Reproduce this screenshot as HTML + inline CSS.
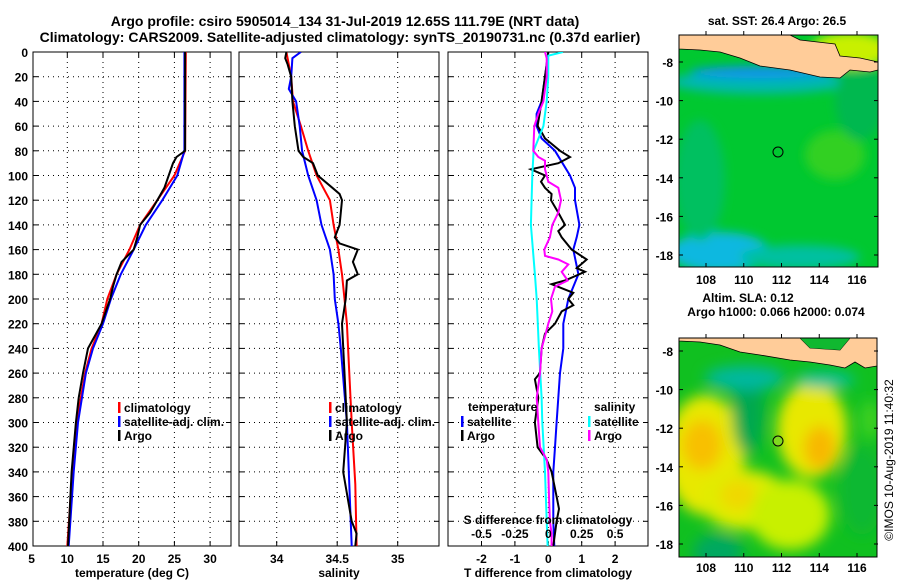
<!DOCTYPE html>
<html><head><meta charset="utf-8"><style>
html,body{margin:0;padding:0;background:#fff;width:900px;height:580px;overflow:hidden}
svg{display:block;font-family:"Liberation Sans",sans-serif;font-weight:bold}
</style></head><body>
<svg id="fig" width="900" height="580" viewBox="0 0 900 580">
<defs>
<filter id="bl1" x="-50%" y="-50%" width="200%" height="200%"><feGaussianBlur stdDeviation="5"/></filter>
<filter id="bl2" x="-50%" y="-50%" width="200%" height="200%"><feGaussianBlur stdDeviation="7"/></filter>
<clipPath id="cm1"><rect x="679" y="35" width="199" height="232"/></clipPath>
<clipPath id="cm2"><rect x="679" y="338" width="198" height="219"/></clipPath>
<clipPath id="cp1"><rect x="33" y="52" width="198" height="494"/></clipPath>
<clipPath id="cp2"><rect x="239" y="52" width="200" height="494"/></clipPath>
<clipPath id="cp3"><rect x="448" y="52" width="200" height="494"/></clipPath>
</defs>
<text x="345" y="26" font-size="14" text-anchor="middle">Argo profile: csiro 5905014_134 31-Jul-2019 12.65S 111.79E (NRT data)</text>
<text x="340" y="42" font-size="14" text-anchor="middle">Climatology: CARS2009. Satellite-adjusted climatology: synTS_20190731.nc (0.37d earlier)</text>

<!-- Map 1 SST -->
<g>
<g clip-path="url(#cm1)">
<rect x="679" y="35" width="199" height="232" fill="#00c830"/>
<g filter="url(#bl1)">
<ellipse cx="760" cy="82" rx="90" ry="12" fill="#00b8b0"/>
<ellipse cx="760" cy="72" rx="70" ry="6" fill="#1090f0"/>
<ellipse cx="720" cy="252" rx="50" ry="20" fill="#10b8e0"/>
<ellipse cx="800" cy="257" rx="60" ry="12" fill="#00c0a0"/>
<ellipse cx="700" cy="180" rx="25" ry="60" fill="#00c060"/>
<ellipse cx="835" cy="155" rx="30" ry="25" fill="#30d020"/>
<ellipse cx="860" cy="100" rx="25" ry="40" fill="#00b850"/>
<ellipse cx="850" cy="50" rx="40" ry="18" fill="#c8f000"/>
</g>
<polygon points="679,35 679,49 700,50 720,52 740,58 760,66 790,70 820,77 840,78 850,70 870,72 878,70 878,62 860,58 840,56 835,44 800,40 790,35" fill="#ffcc99" stroke="#000" stroke-width="0.8"/>
</g>
<rect x="679" y="35" width="199" height="232" fill="none" stroke="#000"/>
<circle cx="778" cy="152" r="5" fill="none" stroke="#000"/>
</g>
<text x="777" y="25" font-size="12" text-anchor="middle">sat. SST: 26.4 Argo: 26.5</text>

<!-- Map 2 SLA -->
<g>
<g clip-path="url(#cm2)">
<rect x="679" y="338" width="198" height="219" fill="#10c020"/>
<g filter="url(#bl2)">
<ellipse cx="705" cy="455" rx="40" ry="60" fill="#e8e800"/>
<ellipse cx="745" cy="500" rx="45" ry="30" fill="#e0ec00"/>
<ellipse cx="790" cy="515" rx="40" ry="35" fill="#c8f000"/>
<ellipse cx="812" cy="430" rx="35" ry="48" fill="#e8e800"/>
<ellipse cx="702" cy="445" rx="20" ry="25" fill="#f8c000"/>
<ellipse cx="738" cy="495" rx="18" ry="15" fill="#f0d800"/>
<ellipse cx="820" cy="448" rx="16" ry="22" fill="#f8b800"/>
<ellipse cx="748" cy="410" rx="16" ry="45" fill="#00a850"/>
<ellipse cx="745" cy="378" rx="40" ry="12" fill="#00b8a0"/>
<ellipse cx="825" cy="380" rx="30" ry="8" fill="#00c0a0"/>
<ellipse cx="718" cy="552" rx="25" ry="18" fill="#00a860"/>
<ellipse cx="862" cy="490" rx="22" ry="45" fill="#10b830"/>
<ellipse cx="870" cy="420" rx="10" ry="20" fill="#40d020"/>
</g>
<polygon points="679,338 679,341 700,342 720,345 740,352 760,355 790,360 810,362 830,365 845,368 855,362 865,368 877,366 877,338 850,338 840,350 810,348 800,338" fill="#ffcc99" stroke="#000" stroke-width="0.8"/>
<polygon points="800,338 810,348 840,350 850,338" fill="#10b830"/>
</g>
<rect x="679" y="338" width="198" height="219" fill="none" stroke="#000"/>
<circle cx="778" cy="441" r="5" fill="#80d820" stroke="#000"/>
</g>
<text x="748" y="302" font-size="12" text-anchor="middle">Altim. SLA: 0.12</text>
<text x="776" y="316" font-size="12" text-anchor="middle">Argo h1000: 0.066 h2000: 0.074</text>
<text transform="translate(893,460) rotate(-90)" font-size="12" font-weight="normal" text-anchor="middle">©IMOS 10-Aug-2019 11:40:32</text>
<g id="dyn"></g>
</svg>
<script>
const tDepthClim=[0,80,100,120,140,160,180,200,220,240,260,300,340,400];
const tClim=[26.6,26.5,25.0,22.6,20.2,18.7,16.9,15.6,14.8,13.4,12.5,11.3,10.7,10.0];
const tDepthSat=[0,80,100,120,140,160,180,200,220,240,260,300,340,400];
const tSat=[26.4,26.4,25.4,23.3,21.0,19.3,17.5,16.1,15.0,13.6,12.6,11.5,10.9,10.2];
const tDepthArgo=[0,80,85,90,100,110,120,130,140,150,160,170,180,190,200,220,240,260,280,300,340,400];
const tArgo=[26.5,26.5,25.3,24.8,24.2,23.6,22.6,21.6,20.2,19.8,19.3,17.6,16.9,16.4,16.0,14.8,12.9,12.2,11.6,11.2,10.6,10.1];

const sDepthClim=[0,20,40,60,80,100,120,140,160,180,200,220,240,300,350,400];
const sClim=[34.08,34.12,34.135,34.2,34.26,34.33,34.44,34.47,34.51,34.54,34.56,34.58,34.59,34.62,34.65,34.66];
const sDepthSat=[0,5,20,30,40,60,80,100,120,140,160,180,200,220,240,300,350,400];
const sSat=[34.2,34.13,34.12,34.1,34.16,34.19,34.21,34.26,34.33,34.37,34.44,34.47,34.48,34.51,34.53,34.58,34.6,34.62];
const sDepthArgo=[0,5,10,20,40,60,80,85,90,100,110,115,120,140,150,155,160,170,180,185,200,220,260,300,340,380,390,400];
const sArgo=[34.08,34.07,34.09,34.12,34.13,34.15,34.18,34.22,34.3,34.34,34.46,34.52,34.54,34.52,34.48,34.52,34.67,34.63,34.67,34.58,34.57,34.54,34.56,34.58,34.55,34.62,34.66,34.65];

const dtDepthSat=[0,20,40,50,60,70,80,100,110,120,140,150,160,180,200,220,240,260,280,300,320,340,360,380,400];
const dtSat=[0,-0.1,-0.2,-0.35,-0.35,-0.2,0.2,0.65,0.8,0.8,0.93,0.85,0.75,0.9,0.6,0.45,0.45,0.35,0.3,0.25,0.2,0.15,0.15,0.15,0.18];
const dtDepthArgo=[0,20,40,60,65,70,80,85,90,95,100,105,110,115,120,130,140,145,150,160,168,175,178,185,188,195,200,205,210,220,228,240,260,265,280,300,320,330,340,360,370,380,400];
const dtArgo=[0,-0.1,-0.2,-0.32,-0.2,-0.1,0.35,0.65,0.3,-0.52,-0.1,-0.22,-0.1,0.1,0.08,0.3,0.5,0.3,0.4,0.7,1.15,0.85,1.1,0.5,0.1,0.75,0.6,0.75,0.4,0.2,-0.1,-0.2,-0.25,-0.4,-0.3,-0.4,-0.32,-0.05,0.1,0.25,0.32,0.25,0.15];
const dsDepthSat=[0,3,20,40,60,80,100,140,180,200,240,280,300,340,380,400];
const dsSat=[0.11,0,0,-0.012,-0.037,-0.11,-0.12,-0.13,-0.1,-0.087,-0.07,-0.05,-0.045,-0.025,-0.012,-0.005];
const dsDepthArgo=[0,5,20,40,50,60,80,85,88,95,105,110,120,130,140,150,160,165,168,172,178,185,190,200,210,220,230,240,260,280,300,320,325,330,340,360,380,390,400];
const dsArgo=[-0.025,-0.012,-0.012,-0.037,-0.075,-0.105,-0.112,-0.075,-0.025,-0.025,0,0.075,0.095,0.075,0.03,0.012,-0.03,-0.025,0.075,0.15,0.1,0.145,0.05,0.02,0.03,0,-0.025,-0.05,-0.062,-0.087,-0.075,-0.062,-0.037,-0.012,0,0.005,0.012,0.025,0.025];

const depthTicks=[0,20,40,60,80,100,120,140,160,180,200,220,240,260,280,300,320,340,360,380,400];
const tTicks=[5,10,15,20,25,30];
const sTicks=[34,34.5,35];
const sTickLabels=["34","34.5","35"];
const dtTicks=[-2,-1,0,1,2];
const dsTicks=[-0.5,-0.25,0,0.25,0.5];
const dsTickLabels=["-0.5","-0.25","0","0.25","0.5"];
const latTicks=[-8,-10,-12,-14,-16,-18];
const lonTicks=[108,110,112,114,116];

const NS="http://www.w3.org/2000/svg";
const g=document.getElementById('dyn');
function mk(tag,attrs,parent){const e=document.createElementNS(NS,tag);for(const k in attrs)e.setAttribute(k,attrs[k]);(parent||g).appendChild(e);return e;}
const yD=d=>52+d*494/400;
const xT=t=>67.3+(t-10)*7.14;
const xS=s=>276.7+(s-34)*121;
const xDT=v=>548.3+v*33.4;
const xDS=v=>548.3+v*133.6;

function panel(x0,x1,name,vgrid){
  const p=mk('g',{});
  
  
  depthTicks.forEach((d,i)=>{
    const y=yD(d);
    if(i>0&&i<depthTicks.length-1) mk('line',{x1:x0,x2:x1,y1:y,y2:y,stroke:'#000','stroke-width':1,'stroke-dasharray':'1,4'},p);
    mk('line',{x1:x0,x2:x0+5,y1:y,y2:y,stroke:'#000'},p);
    mk('line',{x1:x1-5,x2:x1,y1:y,y2:y,stroke:'#000'},p);
  });
  vgrid.forEach(x=>{
    mk('line',{x1:x,x2:x,y1:52,y2:546,stroke:'#000','stroke-dasharray':'1,4'},p);
    mk('line',{x1:x,x2:x,y1:546,y2:541,stroke:'#000'},p);
    mk('line',{x1:x,x2:x,y1:52,y2:57,stroke:'#000'},p);
  });
  mk('rect',{x:x0,y:52,width:x1-x0,height:494,fill:'none',stroke:'#000','stroke-width':1},p);
  return p;
}
function line(xs,ds,fx,color,clip,name){
  const pts=xs.map((v,i)=>fx(v).toFixed(1)+','+yD(ds[i]).toFixed(1)).join(' ');
  const e=mk('polyline',{points:pts,fill:'none',stroke:color,'stroke-width':2,'clip-path':'url(#'+clip+')'});
  
  
}
function txt(x,y,s,anchor,size,name){
  const e=mk('text',{x:x,y:y,'font-size':size||12,'text-anchor':anchor||'start'});
  e.textContent=s;
  
  
  return e;
}
function legendBar(x,y,c){mk('rect',{x:x,y:y-10,width:2.5,height:11,fill:c});}

panel(33,231,'temperature-panel',tTicks.slice(1).map(xT));
depthTicks.forEach(d=>txt(28,yD(d)+5,String(d),'end',12,'depth-tick-label'));
tTicks.forEach(t=>txt(xT(t),563,String(t),'middle',12,'temperature-tick-label'));
txt(132,577,'temperature (deg C)','middle',12,'x-axis-title-temperature');
line(tClim,tDepthClim,xT,'#ff0000','cp1','climatology-temperature-line');
line(tSat,tDepthSat,xT,'#0000ff','cp1','satellite-temperature-line');
line(tArgo,tDepthArgo,xT,'#000000','cp1','argo-temperature-line');
legendBar(118,412,'#f00');txt(124,412,'climatology','start',12,'legend-climatology');
legendBar(118,426,'#00f');txt(124,426,'satellite-adj. clim.','start',12,'legend-satellite');
legendBar(118,440,'#000');txt(124,440,'Argo','start',12,'legend-argo');

panel(239,439,'salinity-panel',sTicks.map(xS));
sTicks.forEach((s,i)=>txt(xS(s),563,sTickLabels[i],'middle',12,'salinity-tick-label'));
txt(339,577,'salinity','middle',12,'x-axis-title-salinity');
line(sClim,sDepthClim,xS,'#ff0000','cp2','climatology-salinity-line');
line(sSat,sDepthSat,xS,'#0000ff','cp2','satellite-salinity-line');
line(sArgo,sDepthArgo,xS,'#000000','cp2','argo-salinity-line');
legendBar(329,412,'#f00');txt(335,412,'climatology','start',12,'legend-climatology-2');
legendBar(329,426,'#00f');txt(335,426,'satellite-adj. clim.','start',12,'legend-satellite-2');
legendBar(329,440,'#000');txt(335,440,'Argo','start',12,'legend-argo-2');

panel(448,648,'difference-panel',dtTicks.map(xDT));
dtTicks.forEach(t=>txt(xDT(t),563,String(t),'middle',12,'t-difference-tick-label'));
txt(548,577,'T difference from climatology','middle',12,'x-axis-title-t-difference');
line(dtSat,dtDepthSat,xDT,'#0000ff','cp3','satellite-t-difference-line');
line(dtArgo,dtDepthArgo,xDT,'#000000','cp3','argo-t-difference-line');
line(dsSat,dsDepthSat,xDS,'#00ffff','cp3','satellite-s-difference-line');
line(dsArgo,dsDepthArgo,xDS,'#ff00ff','cp3','argo-s-difference-line');
txt(548,524,'S difference from climatology','middle',12,'s-difference-axis-title');
dsTicks.forEach((t,i)=>txt(xDS(t),538,dsTickLabels[i],'middle',12,'s-difference-tick-label'));
txt(468,411,'temperature','start',12,'legend-temperature-heading');
legendBar(461,426,'#00f');txt(467,426,'satellite','start',12,'legend-t-satellite');
legendBar(461,440,'#000');txt(467,440,'Argo','start',12,'legend-t-argo');
txt(594,411,'salinity','start',12,'legend-salinity-heading');
legendBar(588,426,'#0ff');txt(594,426,'satellite','start',12,'legend-s-satellite');
legendBar(588,440,'#f0f');txt(594,440,'Argo','start',12,'legend-s-argo');

function mapAxes(top,bottom,yLat,labelY){
  latTicks.forEach(l=>{
    const y=yLat(l);
    txt(673,y+5,String(l),'end',12,'latitude-tick-label');
    mk('line',{x1:679,x2:683,y1:y,y2:y,stroke:'#000'});
    mk('line',{x1:874,x2:878,y1:y,y2:y,stroke:'#000'});
  });
  lonTicks.forEach(l=>{
    const x=706+(l-108)*18.875;
    txt(x,labelY,String(l),'middle',12,'longitude-tick-label');
    mk('line',{x1:x,x2:x,y1:bottom,y2:bottom-4,stroke:'#000'});
    mk('line',{x1:x,x2:x,y1:top,y2:top-4,stroke:'#000'});
  });
}
mapAxes(35,267,l=>62+(-8-l)*19.3,284);
mapAxes(338,557,l=>351+(-8-l)*19.3,572);
</script>
</body></html>
